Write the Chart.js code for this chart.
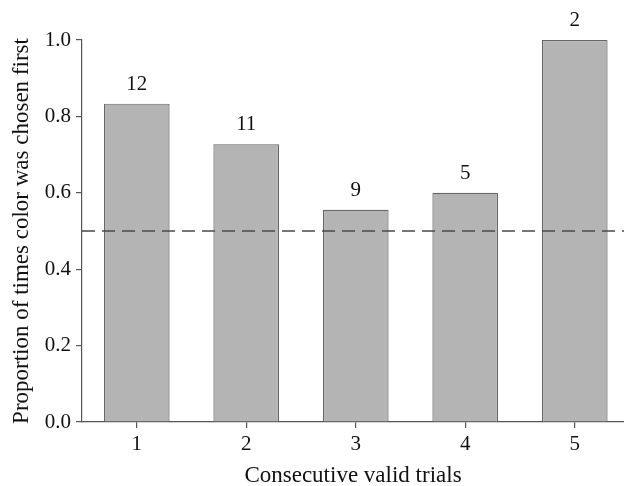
<!DOCTYPE html>
<html>
<head>
<meta charset="utf-8">
<script src="https://cdn.jsdelivr.net/npm/chart.js@4"></script>
<style>
  html, body { margin: 0; padding: 0; background: #fff; }
  #wrap { width: 624px; height: 486px; }
</style>
</head>
<body>
<div id="wrap"><canvas id="c" width="624" height="486"></canvas></div>
<script>
// Consecutive valid trial number
const trials = [1, 2, 3, 4, 5];
// Proportion of times the colour was chosen first
const proportions = [10 / 12, 8 / 11, 5 / 9, 3 / 5, 2 / 2];
// Number of observations behind each bar
const counts = [12, 11, 9, 5, 2];
// Y tick values
const yTicks = [0, 0.2, 0.4, 0.6, 0.8, 1.0];
// Chance level reference
const chanceLevel = 0.5;

const serif = '"Liberation Serif", "DejaVu Serif", serif';
const axisColor = '#555';

const chancePlugin = {
  id: 'chanceLine',
  draw(chart) {
    const { ctx, chartArea, scales } = chart;
    const y = scales.y.getPixelForValue(chanceLevel);
    ctx.save();
    ctx.strokeStyle = '#4a4a4a';
    ctx.lineWidth = 1.3;
    ctx.setLineDash([13, 7]);
    ctx.beginPath();
    ctx.moveTo(chartArea.left, y);
    ctx.lineTo(chartArea.right, y);
    ctx.stroke();
    ctx.restore();
  },
  afterDatasetsDraw(chart) { this.draw(chart); }
};

const countLabels = {
  id: 'countLabels',
  afterDatasetsDraw(chart) {
    const { ctx } = chart;
    const meta = chart.getDatasetMeta(0);
    ctx.save();
    ctx.fillStyle = '#111';
    ctx.font = '21px ' + serif;
    ctx.textAlign = 'center';
    ctx.textBaseline = 'alphabetic';
    meta.data.forEach((bar, i) => {
      ctx.fillText(String(counts[i]), bar.x, bar.y - 14);
    });
    ctx.restore();
  }
};

new Chart(document.getElementById('c'), {
  type: 'bar',
  data: {
    datasets: [{
      data: trials.map((t, i) => ({ x: t, y: proportions[i] })),
      backgroundColor: '#b4b4b4',
      borderColor: '#666',
      borderWidth: 1.2,
      categoryPercentage: 1.0,
      barPercentage: 0.6
    }]
  },
  options: {
    responsive: false,
    animation: false,
    devicePixelRatio: 1,
    layout: { padding: { top: 40, right: 0, left: 0, bottom: 0 } },
    plugins: { legend: { display: false }, tooltip: { enabled: false } },
    scales: {
      x: {
        type: 'linear',
        offset: false,
        min: 0.5,
        max: 5.45,
        afterBuildTicks(scale) { scale.ticks = trials.map(v => ({ value: v })); },
        afterFit(scale) { scale.height = 64; },
        grid: { display: true, offset: false, drawOnChartArea: false, drawTicks: true, tickLength: 6, color: axisColor, lineWidth: 1.2 },
        border: { display: true, color: axisColor, width: 1.2 },
        ticks: { color: '#111', font: { family: serif, size: 21 }, padding: 4, maxRotation: 0 },
        title: { display: true, text: 'Consecutive valid trials', color: '#111', font: { family: serif, size: 23 }, padding: { top: 0, bottom: -4 } }
      },
      y: {
        min: 0,
        max: 1,
        afterBuildTicks(scale) { scale.ticks = yTicks.map(v => ({ value: v })); },
        afterFit(scale) { scale.width = 82; },
        grid: { display: true, drawOnChartArea: false, drawTicks: true, tickLength: 6, color: axisColor, lineWidth: 1.2 },
        border: { display: true, color: axisColor, width: 1.2 },
        ticks: { color: '#111', font: { family: serif, size: 21 }, padding: 5, callback: v => v.toFixed(1) },
        title: { display: true, text: 'Proportion of times color was chosen first', color: '#111', font: { family: serif, size: 23 }, padding: { top: 8, bottom: 4 } }
      }
    }
  },
  plugins: [chancePlugin, countLabels]
});
</script>
</body>
</html>
